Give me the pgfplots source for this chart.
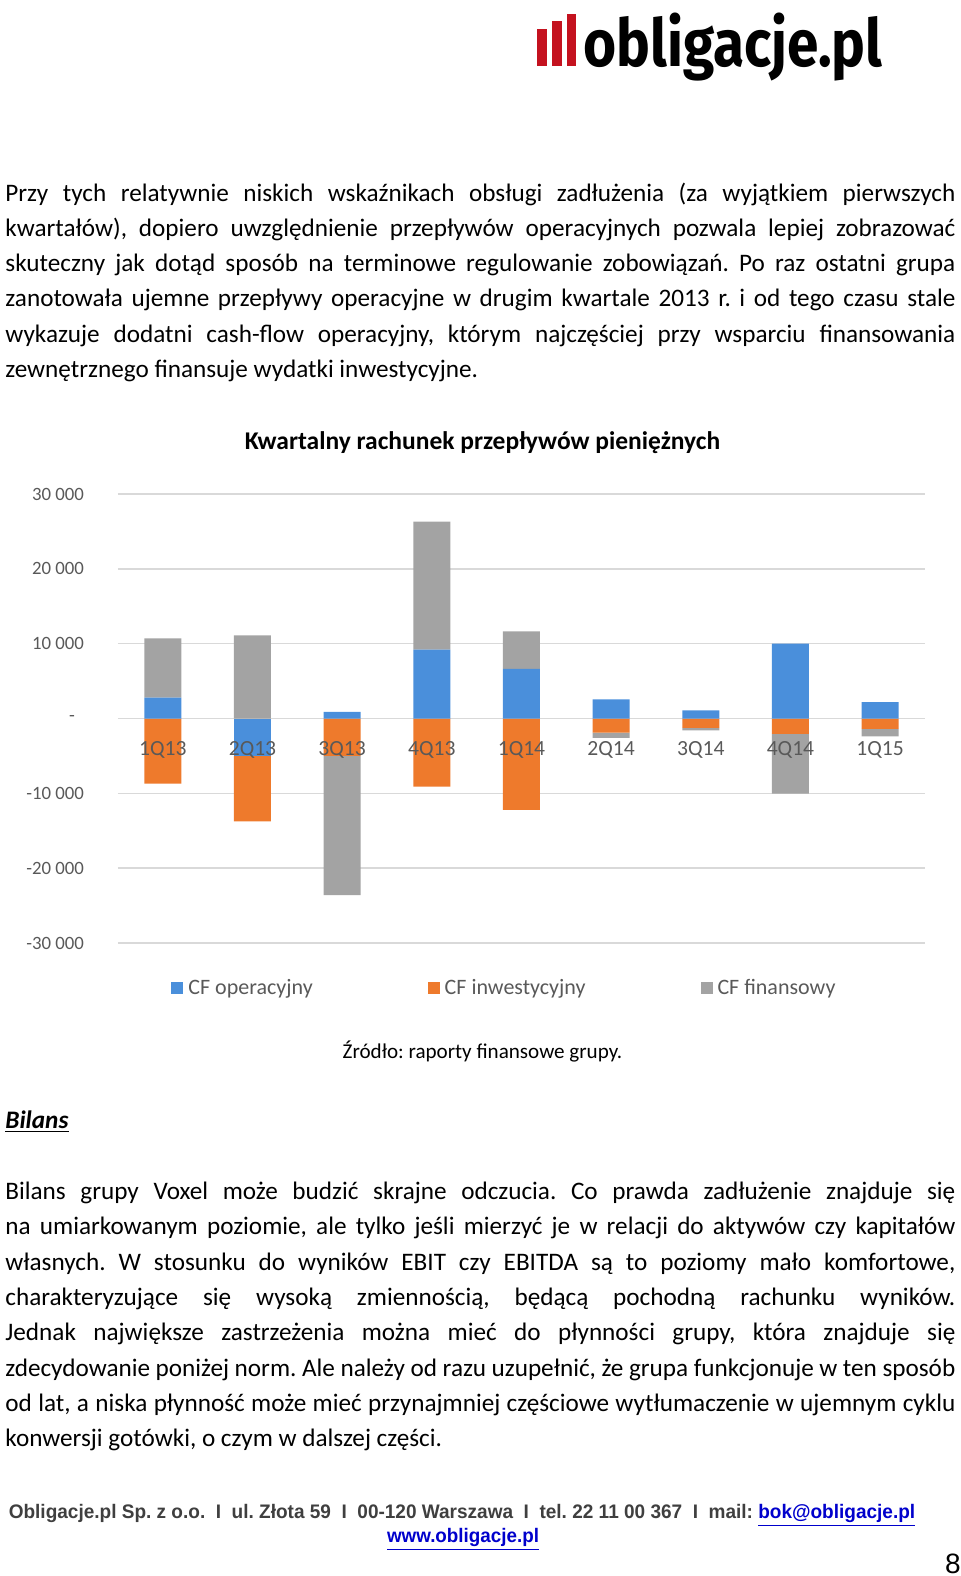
\documentclass[border=0pt]{standalone}
\usepackage{fontspec}
\setmainfont{Carlito}
\newfontfamily\arialf{Liberation Sans}
\newfontfamily\logof{Fira Sans}
\usepackage{pgfplots}
\usepackage{pgfplotstable}
\pgfplotsset{compat=1.18}
\definecolor{cfblue}{HTML}{4A8FDB}
\definecolor{cforange}{HTML}{EE7A2C}
\definecolor{cfgray}{HTML}{A3A3A3}
\definecolor{gridc}{HTML}{D9D9D9}
\definecolor{labc}{HTML}{595959}
\definecolor{footc}{HTML}{3F3F3F}
\definecolor{linkc}{HTML}{0000CC}
\definecolor{logored}{HTML}{C4121F}

% positive parts of each series (stacked upward from zero)
\pgfplotstableread{
x op inw fin
0 2800 0 7900
1 0 0 11100
2 900 0 0
3 9200 0 17100
4 6650 0 5000
5 2550 0 0
6 1100 0 0
7 10000 0 0
8 2200 0 0
}\postab
% negative parts of each series (stacked downward from zero)
\pgfplotstableread{
x op inw fin
0 0 -8700 0
1 -5000 -8750 0
2 0 -5000 -18600
3 0 -9100 0
4 0 -12200 0
5 0 -1900 -700
6 0 -1250 -350
7 0 -2050 -8000
8 0 -1400 -1000
}\negtab

\begin{document}
\frenchspacing
\begin{tikzpicture}
\begin{scope}[x=0.5pt,y=-0.5pt]
\path (0,0) rectangle (960,1576);
% logo
\fill[logored] (537,66) rectangle (547,29);
\fill[logored] (552,66) rectangle (562,21);
\fill[logored] (567,66) rectangle (576,14);
\node[anchor=base west,inner sep=0] at (583,66) {\scalebox{0.86}[1]{\logof\bfseries\fontsize{33pt}{36pt}\selectfont obligacje.pl}};
% text
\begin{scope}[every node/.style={anchor=base west,inner sep=0,font=\fontsize{12.6pt}{14pt}\selectfont}]
\node at (5,201) {\makebox[475pt][s]{Przy tych relatywnie niskich wskaźnikach obsługi zadłużenia (za wyjątkiem pierwszych}};
\node at (5,236.3) {\makebox[475pt][s]{kwartałów), dopiero uwzględnienie przepływów operacyjnych pozwala lepiej zobrazować}};
\node at (5,271.6) {\makebox[475pt][s]{skuteczny jak dotąd sposób na terminowe regulowanie zobowiązań. Po raz ostatni grupa}};
\node at (5,306.9) {\makebox[475pt][s]{zanotowała ujemne przepływy operacyjne w drugim kwartale 2013 r. i od tego czasu stale}};
\node at (5,342.2) {\makebox[475pt][s]{wykazuje dodatni cash-flow operacyjny, którym najczęściej przy wsparciu finansowania}};
\node at (5,377.5) {zewnętrznego finansuje wydatki inwestycyjne.};
\node at (5,1199.5) {\makebox[475pt][s]{Bilans grupy Voxel może budzić skrajne odczucia. Co prawda zadłużenie znajduje się}};
\node at (5,1234.8) {\makebox[475pt][s]{na umiarkowanym poziomie, ale tylko jeśli mierzyć je w relacji do aktywów czy kapitałów}};
\node at (5,1270.1) {\makebox[475pt][s]{własnych. W stosunku do wyników EBIT czy EBITDA są to poziomy mało komfortowe,}};
\node at (5,1305.4) {\makebox[475pt][s]{charakteryzujące się wysoką zmiennością, będącą pochodną rachunku wyników.}};
\node at (5,1340.7) {\makebox[475pt][s]{Jednak największe zastrzeżenia można mieć do płynności grupy, która znajduje się}};
\node at (5,1376) {\makebox[475pt][s]{zdecydowanie poniżej norm. Ale należy od razu uzupełnić, że grupa funkcjonuje w ten sposób}};
\node at (5,1411.3) {\makebox[475pt][s]{od lat, a niska płynność może mieć przynajmniej częściowe wytłumaczenie w ujemnym cyklu}};
\node at (5,1446.6) {konwersji gotówki, o czym w dalszej części.};
\node at (5,1128.5) {\underline{\textbf{\textit{Bilans}}}};
\end{scope}
% chart title and source
\node[anchor=base,inner sep=0,font=\bfseries\fontsize{12.75pt}{14pt}\selectfont] at (482.5,449) {Kwartalny rachunek przepływów pieniężnych};
\node[anchor=base,inner sep=0,font=\fontsize{10.55pt}{12pt}\selectfont] at (482.5,1058) {Źródło: raporty finansowe grupy.};
% footer
\node[anchor=base,inner sep=0,text=footc] at (462,1518) {\scalebox{0.97}[1]{\arialf\bfseries\fontsize{9.8pt}{11pt}\selectfont Obligacje.pl Sp. z o.o.\ \ I\ \ ul. Złota 59\ \ I\ \ 00-120 Warszawa\ \ I\ \ tel. 22 11 00 367\ \ I\ \ mail: \textcolor{linkc}{\underline{bok@obligacje.pl}}}};
\node[anchor=base,inner sep=0,text=linkc] at (463,1542) {\scalebox{0.96}[1]{\arialf\bfseries\fontsize{9.8pt}{11pt}\selectfont\underline{www.obligacje.pl}}};
\node[anchor=base,inner sep=0] at (953,1573) {\arialf\fontsize{14pt}{16pt}\selectfont 8};
\end{scope}

% axis 1: grid, y labels, negative parts
\begin{axis}[
  at={(59pt,-471.5pt)}, anchor=south west, scale only axis,
  width=403.5pt, height=224.5pt,
  xmin=-0.5, xmax=8.5, ymin=-30000, ymax=30000,
  scaled y ticks=false,
  ybar stacked, bar width=18.5pt,
  axis x line*=bottom, axis y line*=left, axis line style={draw=none},
  xtick=\empty,
  ytick={-30000,-20000,-10000,0,10000,20000,30000},
  yticklabels={-30 000,-20 000,-10 000,-\rule{4.5pt}{0pt},10 000,20 000,30 000},
  major tick length=0pt,
  ymajorgrids, grid style={draw=gridc,line width=0.7pt},
  yticklabel style={text=labc,font=\fontsize{9.4pt}{11pt}\selectfont,xshift=-13.5pt},
]
\addplot[fill=cfblue,draw=none] table[x=x,y=op]{\negtab};
\addplot[fill=cforange,draw=none] table[x=x,y=inw]{\negtab};
\addplot[fill=cfgray,draw=none] table[x=x,y=fin]{\negtab};
\end{axis}

% axis 2: positive parts, category labels, legend
\begin{axis}[
  at={(59pt,-471.5pt)}, anchor=south west, scale only axis,
  width=403.5pt, height=224.5pt,
  xmin=-0.5, xmax=8.5, ymin=-30000, ymax=30000,
  ybar stacked, bar width=18.5pt,
  axis x line*=middle, axis y line*=left, axis line style={draw=none},
  ytick=\empty,
  xtick={0,...,8},
  xticklabels={1Q13,2Q13,3Q13,4Q13,1Q14,2Q14,3Q14,4Q14,1Q15},
  major tick length=0pt,
  xticklabel style={text=labc,font=\fontsize{10.8pt}{12pt}\selectfont,yshift=-8pt},
  legend columns=3,
  legend image code/.code={\fill[#1] (0pt,-3pt) rectangle (6pt,3pt); \path (7pt,0pt);},
  legend style={at={(0.0657,-0.1003)},anchor=west,draw=none,fill=none,inner sep=0pt,
    font=\fontsize{11pt}{13pt}\selectfont,text=labc,
    nodes={inner sep=1.5pt},
    /tikz/every even column/.append style={column sep=56pt}},
]
\addplot[fill=cfblue,draw=none] table[x=x,y=op]{\postab};
\addplot[fill=cforange,draw=none] table[x=x,y=inw]{\postab};
\addplot[fill=cfgray,draw=none] table[x=x,y=fin]{\postab};
\legend{CF operacyjny,CF inwestycyjny,CF finansowy}
\end{axis}
\end{tikzpicture}
\end{document}
